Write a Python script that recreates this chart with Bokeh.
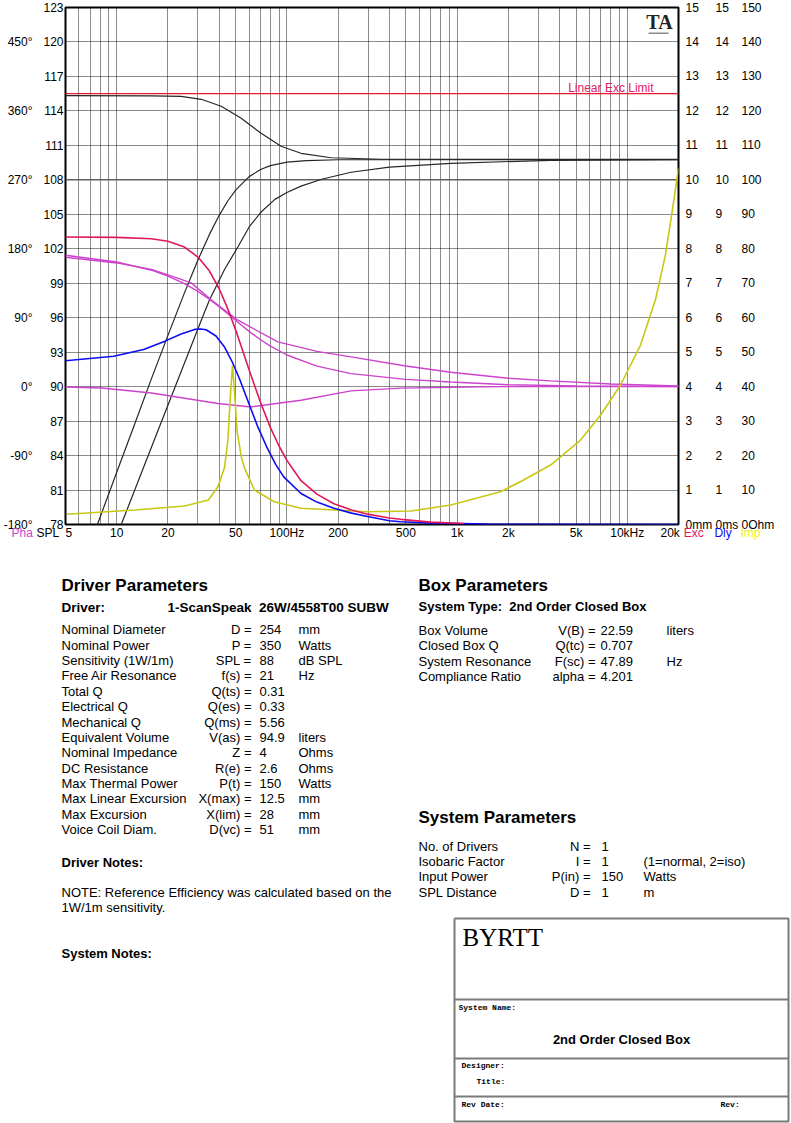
from bokeh.plotting import figure
from bokeh.models import Range1d, LinearAxis, FixedTicker, Label, ColumnDataSource
from bokeh.embed import file_html
from bokeh.resources import INLINE
from bokeh.core.properties import value

FONT = "Liberation Sans"
SERIF = "Liberation Serif"
MONO = "Liberation Mono"
NB = "\u00a0"

# ---------------- data ----------------
spl_ticks = list(range(78, 124, 3))
phase_ticks = [-180, -90, 0, 90, 180, 270, 360, 450]
mm_ticks = list(range(0, 16))
ohm_ticks = list(range(0, 151, 10))
freq_ticks = [5, 10, 20, 50, 100, 200, 500, 1000, 2000, 5000, 10000, 20000]
freq_labels = ["5", "10", "20", "50", "100Hz", "200", "500", "1k", "2k", "5k", "10kHz", "20k"]
grid_freqs = [6, 7, 8, 9, 10, 20, 30, 40, 50, 60, 70, 80, 90, 100, 200, 300, 400, 500,
              600, 700, 800, 900, 1000, 2000, 3000, 4000, 5000, 6000, 7000, 8000, 9000, 10000]

xmax_mm = 12.5        # Linear Exc Limit
ref_spl = 108

# top black curve (dB)
maxspl_f = [5, 16.0, 23.9, 31.4, 41.1, 53.9, 70.5, 92.4, 121, 182, 357, 20000]
maxspl_db = [115.33, 115.31, 115.27, 115.01, 114.4, 113.36, 112.05, 110.92, 110.31, 109.92, 109.79, 109.79]
# SPL at input power (dB)
splA_f = [7.7, 10, 12.5, 16, 20, 25, 30, 35, 40, 45, 50, 60, 70, 80, 100, 130, 200, 20000]
splA_db = [78.0, 82.55, 86.4, 90.7, 94.46, 98.16, 101.02, 103.23, 104.91, 106.18, 107.11, 108.28,
           108.9, 109.24, 109.54, 109.68, 109.75, 109.76]
# second rising curve (dB)
splB_f = [10.6, 17.5, 31.4, 35.0, 43.0, 51.7, 60, 70.5, 85, 100, 121, 160, 238, 400, 918, 3543, 20000]
splB_db = [77.95, 86.2, 95.78, 97.52, 100.2, 102.2, 103.9, 105.2, 106.3, 106.9, 107.45, 108.05, 108.66,
           109.1, 109.44, 109.7, 109.76]
# cone excursion (mm)
exc_f = [5, 10, 16, 20, 25, 30, 35, 40, 45, 50, 55, 60, 70, 80, 90, 100, 121, 150, 189, 240, 298, 400, 467, 700, 1100]
exc_mm = [8.34, 8.33, 8.29, 8.22, 8.05, 7.76, 7.36, 6.84, 6.25, 5.64, 5.04, 4.48, 3.54, 2.81, 2.27, 1.86,
          1.27, 0.88, 0.6, 0.42, 0.3, 0.19, 0.15, 0.07, 0.03]
# group delay (ms)
dly_f = [5, 9.6, 14.4, 19.2, 23.9, 28.7, 31.1, 33.5, 38.3, 43.1, 47.9, 52.7, 57.5, 62.3, 67, 76.6, 86.2,
         95.8, 121, 150, 189, 240, 298, 400, 467, 700, 1500, 20000]
dly_ms = [4.75, 4.88, 5.08, 5.32, 5.53, 5.66, 5.67, 5.65, 5.47, 5.14, 4.70, 4.22, 3.73, 3.28, 2.87, 2.22,
          1.73, 1.38, 0.9, 0.65, 0.47, 0.33, 0.23, 0.11, 0.08, 0.04, 0.01, 0.0]
# impedance (ohm)
imp_f = [5.1, 12.75, 25.05, 34.6, 39.3, 43.0, 45.0, 46.5, 47.9, 49.5, 51.0, 54.0, 56.2, 64.4, 84.3, 121,
         298, 535, 918, 1803, 2461, 3543, 5314, 6962, 9118, 11950, 14630, 16740, 18410, 20000]
imp_ohm = [2.96, 4.2, 5.36, 7.1, 10.96, 16.5, 24.5, 37.0, 46.2, 36.5, 27.0, 19.5, 16.5, 10.0, 6.6, 4.7,
           3.7, 3.9, 5.65, 9.5, 12.9, 17.25, 24.5, 31.7, 40.4, 52.0, 65.1, 78.1, 91.2, 103.3]
# phase (degrees)
ph1_f = [5, 10, 16, 20, 27.4, 35.9, 51.5, 88.4, 150, 238, 500, 918, 2000, 3543, 8000, 20000]
ph1_deg = [168.9, 161.5, 153.0, 146.0, 135.5, 113.5, 86.7, 58.4, 46.0, 38.8, 27.0, 18.8, 11.0, 7.5, 3.5, 0.9]
ph2_f = [5, 10, 16, 20, 25, 30, 35, 40, 47.9, 55, 61.6, 70, 80, 100, 150, 238, 500, 918, 2000, 5000, 20000]
ph2_deg = [171.5, 162.8, 152.0, 144.4, 134.6, 124.4, 114.3, 104.4, 90.0, 78.9, 70.2, 61.2, 52.8, 41.3,
           26.7, 17.0, 9.5, 6.0, 2.5, 1.0, 0.2]
ph3_f = [5, 8.13, 16.0, 39.3, 61.6, 121, 238, 467, 1803, 20000]
ph3_deg = [-0.4, -1.7, -8.3, -22.1, -26.5, -17.8, -5.6, -2.0, 0.0, 0.0]

# series key
key_f = [2.41, 3.38, 21500, 32500, 46200]
key_text = ["Pha", "SPL", "Exc", "Dly", "Imp"]

drv_names = ["Nominal Diameter", "Nominal Power", "Sensitivity (1W/1m)", "Free Air Resonance", "Total Q",
             "Electrical Q", "Mechanical Q", "Equivalent Volume", "Nominal Impedance", "DC Resistance",
             "Max Thermal Power", "Max Linear Excursion", "Max Excursion", "Voice Coil Diam."]
drv_syms = ["D =", "P =", "SPL =", "f(s) =", "Q(ts) =", "Q(es) =", "Q(ms) =", "V(as) =", "Z =", "R(e) =",
            "P(t) =", "X(max) =", "X(lim) =", "D(vc) ="]
drv_vals = ["254", "350", "88", "21", "0.31", "0.33", "5.56", "94.9", "4", "2.6", "150", "12.5", "28", "51"]
drv_units = ["mm", "Watts", "dB SPL", "Hz", "", "", "", "liters", "Ohms", "Ohms", "Watts", "mm", "mm", "mm"]
box_names = ["Box Volume", "Closed Box Q", "System Resonance", "Compliance Ratio"]
box_syms = ["V(B) =", "Q(tc) =", "F(sc) =", "alpha ="]
box_vals = ["22.59", "0.707", "47.89", "4.201"]
box_units = ["liters", "", "Hz", ""]
sys_names = ["No. of Drivers", "Isobaric Factor", "Input Power", "SPL Distance"]
sys_syms = ["N =", "I =", "P(in) =", "D ="]
sys_vals = ["1", "1", "150", "1"]
sys_units = ["", "(1=normal, 2=iso)", "Watts", "m"]

C_RED = "#e0185a"
C_BLUE = "#0c0cf0"
C_MAG = "#cc44cc"
C_YEL = "#c8c814"
C_BLK = "#262626"
key_colors = [C_MAG, "black", C_RED, C_BLUE, "#f0f020"]

W = 791
# ---------------- chart ----------------
p = figure(width=W, height=552, x_axis_type="log", x_range=Range1d(5, 20000), y_range=Range1d(78, 123),
           output_backend="svg", toolbar_location=None, min_border_left=64, min_border_right=113,
           min_border_top=7, min_border_bottom=28)
p.extra_y_ranges = {"deg": Range1d(-180, 495), "mm": Range1d(0, 15), "ms": Range1d(0, 15), "ohm": Range1d(0, 150)}
p.outline_line_color = "black"
p.outline_line_width = 2
p.background_fill_color = "white"
p.border_fill_color = "white"

def style_axis(ax, standoff):
    ax.axis_line_color = None
    ax.major_tick_line_color = None
    ax.minor_tick_line_color = None
    ax.major_tick_out = 0
    ax.major_tick_in = 0
    ax.major_label_standoff = standoff
    ax.major_label_text_font = FONT
    ax.major_label_text_font_size = "12px"
    ax.major_label_text_color = "black"

# end labels nudged inward like the original printout
xlab = dict(zip(freq_ticks, freq_labels))
xlab[5] = NB * 2 + xlab[5]
xlab[20000] = xlab[20000] + NB * 5
xa = p.xaxis[0]
xa.ticker = FixedTicker(ticks=freq_ticks)
xa.major_label_overrides = xlab
style_axis(xa, 1)
ya = p.yaxis[0]
ya.ticker = FixedTicker(ticks=spl_ticks)
ya.major_label_overrides = {t: str(t) for t in spl_ticks}
style_axis(ya, 2)
da = LinearAxis(y_range_name="deg", ticker=FixedTicker(ticks=phase_ticks),
                major_label_overrides={t: f"{t}\u00b0" for t in phase_ticks})
style_axis(da, 8)
p.add_layout(da, "left")
for name, ticks, unit, so in [("mm", mm_ticks, "mm", 7), ("ms", mm_ticks, "ms", 0), ("ohm", ohm_ticks, "Ohm", 0)]:
    ax = LinearAxis(y_range_name=name, ticker=FixedTicker(ticks=ticks),
                    major_label_overrides={t: (f"0{unit}" if t == 0 else str(t)) for t in ticks})
    style_axis(ax, so)
    p.add_layout(ax, "right")

p.xgrid.ticker = FixedTicker(ticks=grid_freqs)
p.ygrid.ticker = FixedTicker(ticks=spl_ticks)
for g in (p.xgrid[0], p.ygrid[0]):
    g.grid_line_color = "#000000"
    g.grid_line_alpha = 0.9
    g.grid_line_dash = "1 1"
    g.grid_line_width = 1

p.line(x=[5, 20000], y=[ref_spl, ref_spl], line_color="#606060", line_width=1.5)
p.line(x=[5, 20000], y=[xmax_mm, xmax_mm], y_range_name="mm", line_color="#e81830", line_width=1.2)

p.line(maxspl_f, maxspl_db, line_color=C_BLK, line_width=1.2)
p.line(splA_f, splA_db, line_color=C_BLK, line_width=1.2)
p.line(splB_f, splB_db, line_color=C_BLK, line_width=1.2)
p.line(ph1_f, ph1_deg, y_range_name="deg", line_color=C_MAG, line_width=1.4)
p.line(ph2_f, ph2_deg, y_range_name="deg", line_color=C_MAG, line_width=1.4)
p.line(ph3_f, ph3_deg, y_range_name="deg", line_color=C_MAG, line_width=1.4)
p.line(imp_f, imp_ohm, y_range_name="ohm", line_color=C_YEL, line_width=1.6)
p.line(dly_f, dly_ms, y_range_name="ms", line_color=C_BLUE, line_width=1.6)
p.line(exc_f, exc_mm, y_range_name="mm", line_color=C_RED, line_width=1.6)

p.add_layout(Label(x=14270, y=12.66, y_range_name="mm", text="Linear Exc Limit", text_align="right",
                   text_baseline="middle", text_color="#e0206a", text_font=FONT, text_font_size="12px"))
p.add_layout(Label(x=15470, y=121.7, text="TA", text_align="center", text_baseline="middle",
                   text_color="#222222", text_font=SERIF, text_font_style="bold", text_font_size="20px"))
p.segment(x0=[13340], y0=[120.75], x1=[17480], y1=[120.75], line_color="#8a8a8a", line_width=1.5)

# series key below the frame, drawn on the overlay level so it is not clipped
p.text(x=key_f, y=[77.3] * len(key_f), text=key_text, text_color=key_colors, text_font=value(FONT),
       text_font_size="12px", text_align="left", text_baseline="middle", level="overlay")

# ---------------- text page ----------------
Y0 = 552
t = figure(width=W, height=1123 - Y0, x_range=Range1d(0, W), y_range=Range1d(1123, Y0),
           output_backend="svg", toolbar_location=None, min_border=0,
           x_axis_location=None, y_axis_location=None)
t.outline_line_color = None
t.grid.visible = False
t.background_fill_color = "white"
t.border_fill_color = "white"

def txt(xs, ys, texts, size="13px", style="normal", align="left", font=FONT, color="black"):
    src = ColumnDataSource(dict(x=xs, y=ys, t=texts))
    t.text(x="x", y="y", text="t", source=src, text_font=value(font), text_font_size=size,
           text_font_style=style, text_align=align, text_baseline="middle", text_color=color)

STEP = 15.38
txt([61], [585], ["Driver Parameters"], size="17px", style="bold")
txt([61, 167], [607, 607], ["Driver:", "1-ScanSpeak" + NB + " 26W/4558T00 SUBW"], size="13.5px", style="bold")
rows = [629.3 + i * STEP for i in range(len(drv_names))]
txt([61] * len(rows), rows, drv_names)
txt([251] * len(rows), rows, drv_syms, align="right")
txt([259] * len(rows), rows, drv_vals)
txt([298] * len(rows), rows, drv_units)
txt([61], [861.5], ["Driver Notes:"], style="bold")
txt([61, 61], [891.7, 906.9], ["NOTE: Reference Efficiency was calculated based on the", "1W/1m sensitivity."])
txt([61], [953], ["System Notes:"], style="bold")

txt([418], [585], ["Box Parameters"], size="17px", style="bold")
txt([418], [606], ["System Type:" + NB + " 2nd Order Closed Box"], style="bold")
rows = [630 + i * STEP for i in range(len(box_names))]
txt([418] * 4, rows, box_names)
txt([595] * 4, rows, box_syms, align="right")
txt([600] * 4, rows, box_vals)
txt([666] * 4, rows, box_units)

txt([418], [817], ["System Parameters"], size="17px", style="bold")
rows = [845.5 + i * STEP for i in range(len(sys_names))]
txt([418] * 4, rows, sys_names)
txt([590] * 4, rows, sys_syms, align="right")
txt([601] * 4, rows, sys_vals)
txt([643] * 4, rows, sys_units)

BL, BR, BT, BB = 454, 788, 918, 1121
dividers = [999, 1058, 1096]
t.multi_line(xs=[[BL, BR, BR, BL, BL]] + [[BL, BR] for _ in dividers],
             ys=[[BT, BT, BB, BB, BT]] + [[d, d] for d in dividers],
             line_color="#7a7a7a", line_width=2)
txt([462], [937], ["BYRTT"], size="25px", font=SERIF)
txt([458, 461, 476, 461, 720], [1007, 1065, 1081, 1104, 1104],
    ["System Name:", "Designer:", "Title:", "Rev Date:", "Rev:"], size="8px", style="bold", font=MONO)
txt([621], [1039], ["2nd Order Closed Box"], size="13px", style="bold", align="center")

open("out.html", "w").write(file_html([p, t], INLINE))
